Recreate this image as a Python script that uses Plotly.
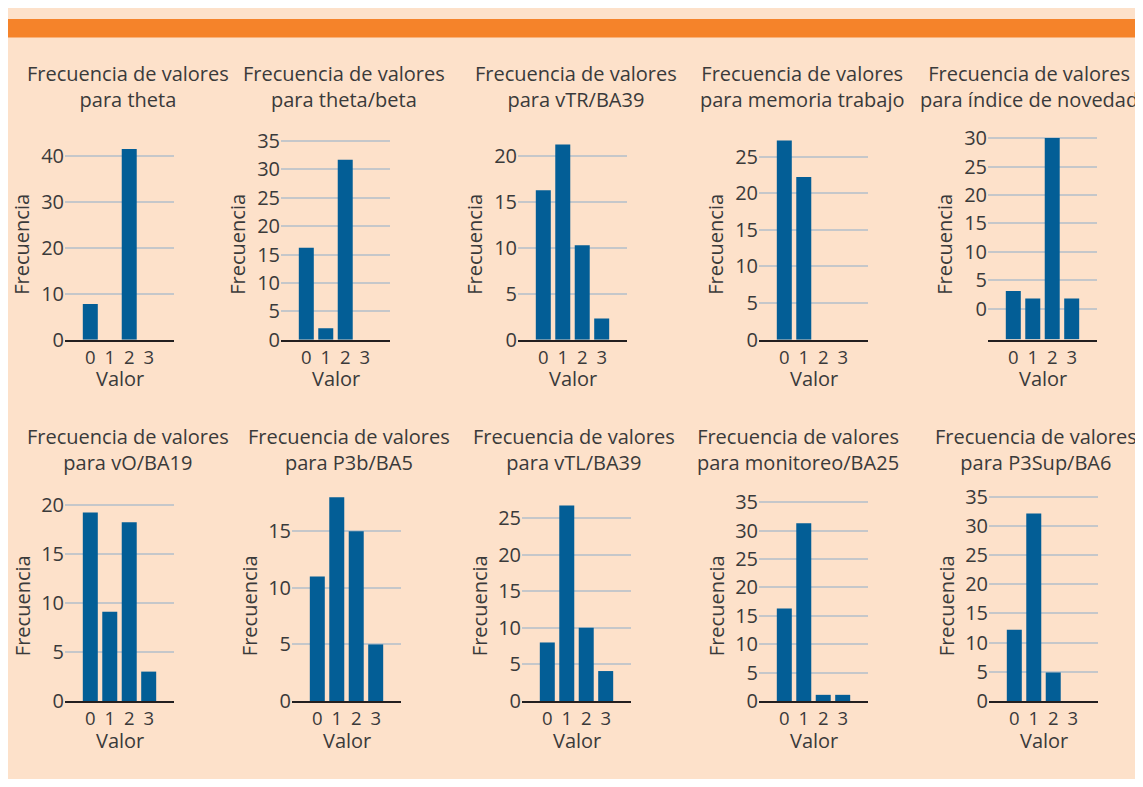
import plotly.graph_objects as go

# categorías del eje x
VALORES = [0, 1, 2, 3]

TITULOS = [
    "Frecuencia de valores<br>para theta",
    "Frecuencia de valores<br>para theta/beta",
    "Frecuencia de valores<br>para vTR/BA39",
    "Frecuencia de valores<br>para memoria trabajo",
    "Frecuencia de valores<br>para índice de novedad",
    "Frecuencia de valores<br>para vO/BA19",
    "Frecuencia de valores<br>para P3b/BA5",
    "Frecuencia de valores<br>para vTL/BA39",
    "Frecuencia de valores<br>para monitoreo/BA25",
    "Frecuencia de valores<br>para P3Sup/BA6",
]

# frecuencias
theta = [7.8, 0, 41.6, 0]
theta_beta = [16.2, 2.0, 31.7, 0]
vtr_ba39 = [16.3, 21.3, 10.3, 2.3]
memoria_trabajo = [27.2, 22.2, 0, 0]
indice_novedad = [3.1, 1.8, 30.0, 1.8]
vo_ba19 = [19.2, 9.1, 18.2, 3.0]
p3b_ba5 = [11.0, 18.0, 15.0, 5.0]
vtl_ba39 = [8.0, 26.7, 10.0, 4.1]
monitoreo_ba25 = [16.3, 31.3, 1.1, 1.1]
p3sup_ba6 = [12.2, 32.1, 4.9, 0]

SERIES = [theta, theta_beta, vtr_ba39, memoria_trabajo, indice_novedad,
          vo_ba19, p3b_ba5, vtl_ba39, monitoreo_ba25, p3sup_ba6]

# el panel de novedad arranca las barras por debajo de cero
BASE_NOVEDAD = -5.4

# la página deja 8px de margen en el body; la figura se dibuja dentro
OFF = 8
W, H = 1143 - OFF, 787 - 2 * OFF
FONT = "Open Sans"
FS = 20
TXT = "#3a3a3a"
BAR = "#035e96"
GRID = "#c5c7ca"
PEACH = "#fde1ca"
ORANGE = "#f5832a"

# posición de cada panel en píxeles de la página
LEFTS = [65, 281, 518, 759, 988, 65, 292, 522, 759, 989]
PLOT_W = 109
BASELINE = [339, 712]
TOP = [128, 498]
TITLE_X = [128, 344, 576, 802, 1029, 128, 349, 574, 798, 1036]
TITLE_Y = [78, 452]
YTITLE_Y = [241, 614]
VALOR_Y = [379, 753]
Y_RANGES = [(0, 44.6), (0, 36.0), (0, 22.3), (0, 27.9), (-5.46, 30.5),
            (0, 21.1), (0, 18.3), (0, 28.3), (0, 36.5), (0, 35.5)]
DTICKS = [10, 5, 5, 5, 5, 5, 5, 5, 5, 5]


def px(x):
    return (x - OFF) / W


def py(y):
    return 1 - (y - OFF) / H


fig = go.Figure()
annotations = []
txt_font = dict(family=FONT, size=FS, color=TXT)
xtick_font = dict(family=FONT, size=18.5, color=TXT)

for i, vals in enumerate(SERIES):
    row = i // 5
    n = i + 1
    xa = "x" if n == 1 else f"x{n}"
    ya = "y" if n == 1 else f"y{n}"
    left = LEFTS[i]

    if i == 4:
        fig.add_trace(go.Bar(
            x=VALORES, y=[v - BASE_NOVEDAD for v in vals], base=BASE_NOVEDAD,
            width=0.77, marker=dict(color=BAR, line=dict(width=0)),
            xaxis=xa, yaxis=ya, showlegend=False))
        tickvals = [0, 5, 10, 15, 20, 25, 30]
    else:
        fig.add_trace(go.Bar(
            x=VALORES, y=vals, width=0.77,
            marker=dict(color=BAR, line=dict(width=0)),
            xaxis=xa, yaxis=ya, showlegend=False))
        top = Y_RANGES[i][1]
        tickvals = list(range(0, int(top) + 1, DTICKS[i]))

    xkey = "xaxis" if n == 1 else f"xaxis{n}"
    ykey = "yaxis" if n == 1 else f"yaxis{n}"
    fig.update_layout(**{
        xkey: dict(
            domain=[px(left), px(left + PLOT_W)], anchor=ya,
            range=[-1.3, 4.3], tickvals=VALORES, ticktext=[str(v) for v in VALORES],
            showgrid=False, zeroline=False, showline=True,
            linecolor="#231f20", linewidth=2, ticks="",
            tickfont=xtick_font, fixedrange=True,
        ),
        ykey: dict(
            domain=[py(BASELINE[row]), py(TOP[row])], anchor=xa,
            range=list(Y_RANGES[i]), tickvals=tickvals,
            showgrid=True, gridcolor=GRID, gridwidth=1.5,
            zeroline=False, showline=False, ticks="",
            tickfont=txt_font, fixedrange=True,
        ),
    })

    annotations.append(dict(
        text=TITULOS[i], x=px(TITLE_X[i]), y=py(TITLE_Y[row]),
        xref="paper", yref="paper", xanchor="center", yanchor="middle",
        showarrow=False, font=txt_font))
    annotations.append(dict(
        text="Frecuencia", x=px(left - 43), y=py(YTITLE_Y[row]), textangle=-90,
        xref="paper", yref="paper", xanchor="center", yanchor="middle",
        showarrow=False, font=txt_font))
    annotations.append(dict(
        text="Valor", x=px(left + PLOT_W / 2), y=py(VALOR_Y[row]),
        xref="paper", yref="paper", xanchor="center", yanchor="middle",
        showarrow=False, font=txt_font))

fig.update_layout(
    width=W, height=H,
    margin=dict(l=0, r=0, t=0, b=0),
    paper_bgcolor=PEACH, plot_bgcolor="rgba(0,0,0,0)",
    bargap=0.2, annotations=annotations,
    shapes=[
        dict(type="rect", xref="paper", yref="paper", x0=0, x1=1, y0=py(27), y1=1,
             fillcolor=ORANGE, line=dict(width=0), layer="below"),
    ],
)

fig.write_html("out.html")
